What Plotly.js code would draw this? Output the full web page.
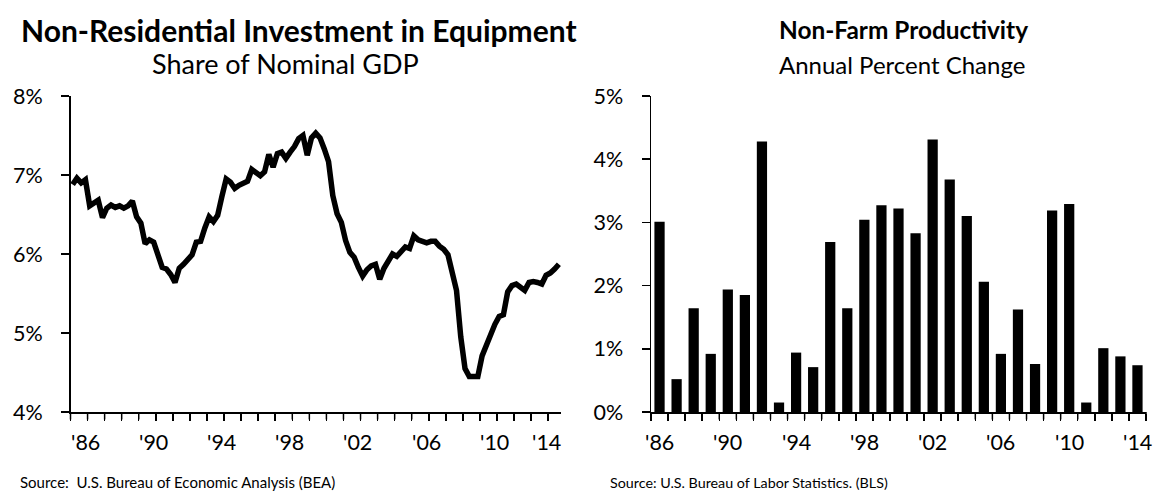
<!DOCTYPE html>
<html>
<head>
<meta charset="utf-8">
<script src="https://cdn.plot.ly/plotly-3.0.1.min.js"></script>
<style>html,body{margin:0;padding:0;background:#fff;}#chart{width:1156px;height:495px;}</style>
</head>
<body>
<div id="chart"></div>
<script>
// ---------- DATA ----------
// Left: Non-residential investment in equipment, share of nominal GDP (%), quarterly from 1986 Q1
const equipStartYear = 1986;
const equipShare = [
  6.88, 6.96, 6.90, 6.94, 6.61, 6.64, 6.68, 6.46, 6.58, 6.62,
  6.59, 6.61, 6.58, 6.61, 6.67, 6.47, 6.39, 6.13, 6.18, 6.15,
  5.96, 5.83, 5.81, 5.74, 5.64, 5.82, 5.87, 5.92, 5.99, 6.15,
  6.16, 6.33, 6.47, 6.41, 6.49, 6.73, 6.95, 6.91, 6.83, 6.87,
  6.90, 6.92, 7.07, 7.03, 6.99, 7.04, 7.26, 7.10, 7.27, 7.29,
  7.21, 7.29, 7.36, 7.46, 7.50, 7.25, 7.47, 7.53, 7.47, 7.33,
  7.17, 6.74, 6.51, 6.40, 6.17, 6.02, 5.96, 5.83, 5.72, 5.80,
  5.85, 5.87, 5.68, 5.82, 5.92, 6.00, 5.97, 6.02, 6.09, 6.07,
  6.23, 6.18, 6.16, 6.14, 6.16, 6.16, 6.10, 6.06, 5.99, 5.79,
  5.54, 4.95, 4.55, 4.45, 4.45, 4.45, 4.71, 4.86, 5.01, 5.11,
  5.21, 5.23, 5.52, 5.60, 5.62, 5.58, 5.54, 5.64, 5.65, 5.64,
  5.62, 5.73, 5.76, 5.81, 5.87
];
// Right: Non-farm productivity, annual percent change
const prodYears = [1986,1987,1988,1989,1990,1991,1992,1993,1994,1995,1996,1997,1998,1999,2000,
                   2001,2002,2003,2004,2005,2006,2007,2008,2009,2010,2011,2012,2013,2014];
const prodChange = [3.01,0.52,1.64,0.92,1.94,1.85,4.28,0.15,0.94,0.71,2.69,1.64,3.04,3.27,3.22,
                    2.83,4.31,3.68,3.10,2.06,0.92,1.62,0.76,3.19,3.29,0.15,1.01,0.88,0.74];
// Tick labels
const labelYears = [1986,1990,1994,1998,2002,2006,2010,2014];
const labelText  = ["'86","'90","'94","'98","'02","'06","'10","'14"];
const leftTitle = "Non-Residential Investment in Equipment";
const leftSubtitle = "Share of Nominal GDP";
const rightTitle = "Non-Farm Productivity";
const rightSubtitle = "Annual Percent Change";
const leftSource = "Source:  U.S. Bureau of Economic Analysis (BEA)";
const rightSource = "Source: U.S. Bureau of Labor Statistics. (BLS)";

// ---------- BUILD ----------
const FONT = "Lato, 'Open Sans', sans-serif";
const W = 1156, H = 495;
const px = v => v / W, py = v => 1 - v / H;

const qx = equipShare.map((_, i) => equipStartYear + (i + 0.5) / 4);
const leftEnd = equipStartYear + equipShare.length / 4;
const leftRange = [equipStartYear, leftEnd];
const lDomPx = [70.5, 561], rDomPx = [651, 1146];
const axisYpx = 412;
const yDom = [py(axisYpx), py(96)];
const lDom = [px(lDomPx[0]), px(lDomPx[1])];
const rDom = [px(rDomPx[0]), px(rDomPx[1])];
const rightRange = [prodYears[0] - 0.5, prodYears[prodYears.length - 1] + 0.5];

// category-axis style labels: left ones sit inside the year, clamped to the axis end
const leftLabelPos = labelYears.map(y => Math.min(y + 0.85, leftEnd - 0.87));
const xLabelY = py(442);

const tickFont = {family: FONT, size: 21.5, color: '#000'};
const baseAxis = {
  showgrid: false, zeroline: false, showline: true, linecolor: '#000', linewidth: 1.5,
  ticks: 'outside', tickcolor: '#000', tickwidth: 1.5, ticklen: 8, tickfont: tickFont,
  fixedrange: true
};

const traces = [
  {type: 'scatter', mode: 'lines', x: qx, y: equipShare, xaxis: 'x', yaxis: 'y',
   line: {color: '#000', width: 5.5}, hoverinfo: 'skip', showlegend: false},
  {type: 'bar', x: prodYears, y: prodChange, xaxis: 'x2', yaxis: 'y2', width: 0.6,
   marker: {color: '#000', line: {width: 0}}, hoverinfo: 'skip', showlegend: false}
];

const textAnn = (text, x, y, size, anchor, xref) => ({
  text: text, xref: xref || 'paper', yref: 'paper', x: x, y: y,
  xanchor: anchor, yanchor: 'middle', showarrow: false,
  font: {family: FONT, size: size, color: '#000'}
});

const annotations = [
  textAnn('<b>' + leftTitle + '</b>', px(299), py(30), 30, 'center'),
  textAnn(leftSubtitle, px(285), py(64), 27, 'center'),
  textAnn('<b>' + rightTitle + '</b>', px(903), py(30), 24.4, 'center'),
  textAnn(rightSubtitle, px(902), py(65), 24, 'center'),
  textAnn(leftSource, px(18), py(482), 15, 'left'),
  textAnn(rightSource, px(608), py(482), 14.3, 'left')
];
labelText.forEach((t, i) => {
  annotations.push(textAnn(t, leftLabelPos[i], xLabelY, 21.5, 'center', 'x'));
  annotations.push(textAnn(t, labelYears[i], xLabelY, 21.5, 'center', 'x2'));
});

// category tick marks along the x axes (one per year boundary), mapped from axis range to the axis domain
const tickShapes = [];
const toPaper = (v, range, dom) => dom[0] + (v - range[0]) / (range[1] - range[0]) * (dom[1] - dom[0]);
const tickMark = (xp) => ({type: 'line', xref: 'paper', yref: 'paper', x0: xp, x1: xp,
  y0: py(axisYpx), y1: py(axisYpx + 7.5), line: {color: '#000', width: 1.5}, layer: 'above'});
for (let v = leftRange[0]; v <= leftRange[1] + 1e-9; v += 1) tickShapes.push(tickMark(toPaper(v, leftRange, lDom)));
for (let v = rightRange[0]; v <= rightRange[1] + 1e-9; v += 1) tickShapes.push(tickMark(toPaper(v, rightRange, rDom)));

const layout = {
  width: W, height: H, margin: {l: 0, r: 0, t: 0, b: 0},
  paper_bgcolor: '#fff', plot_bgcolor: 'rgba(0,0,0,0)',
  font: {family: FONT, color: '#000'},
  showlegend: false,
  xaxis: Object.assign({}, baseAxis, {domain: lDom, anchor: 'y', range: leftRange,
    tickmode: 'linear', tick0: equipStartYear, dtick: 1, ticklen: 7, showticklabels: false}),
  yaxis: Object.assign({}, baseAxis, {domain: yDom, anchor: 'x', range: [4, 8], tickmode: 'linear',
    tick0: 4, dtick: 1, ticksuffix: '%', ticklabelstandoff: 14}),
  xaxis2: Object.assign({}, baseAxis, {domain: rDom, anchor: 'y2', range: rightRange,
    tickmode: 'linear', tick0: rightRange[0], dtick: 1, ticklen: 7, showticklabels: false}),
  yaxis2: Object.assign({}, baseAxis, {domain: yDom, anchor: 'x2', range: [0, 5], tickmode: 'linear',
    tick0: 0, dtick: 1, ticksuffix: '%', ticklabelstandoff: 14}),
  shapes: tickShapes,
  annotations: annotations
};

Plotly.newPlot('chart', traces, layout, {staticPlot: true, displayModeBar: false});
</script>
</body>
</html>
